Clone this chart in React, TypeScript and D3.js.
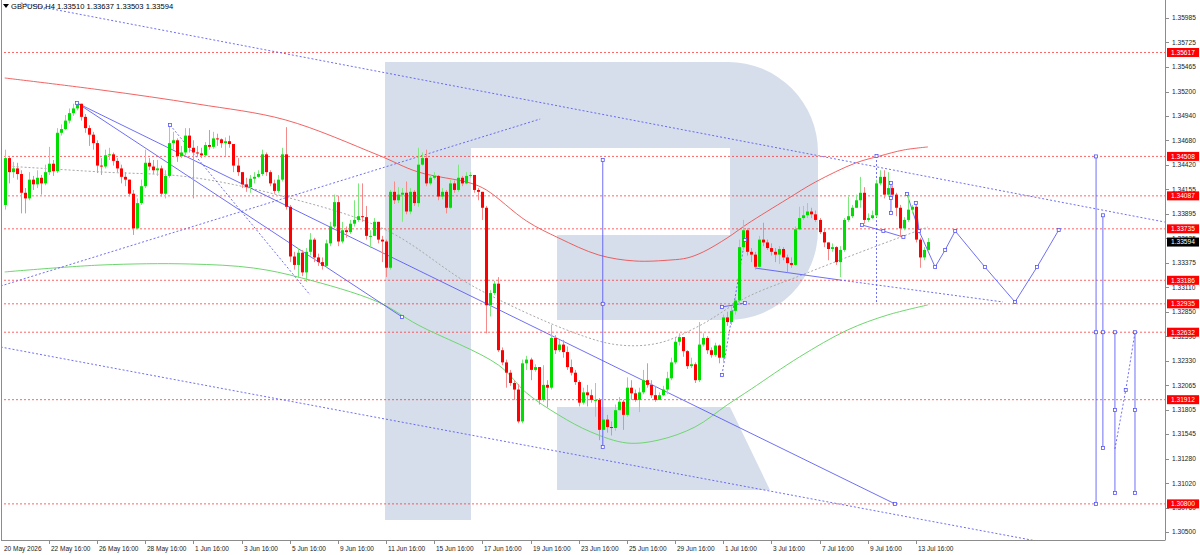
import React from 'react';
import * as d3 from 'd3';

// ---------- data ----------
const symbolTitle = 'GBPUSD,H4';
const lastQuote = [1.3351, 1.33637, 1.33503, 1.33594];

const firstOpen = 1.3399;
const closes = [
  1.3449, 1.3434, 1.3438, 1.3432, 1.3412, 1.3406, 1.3426, 1.3421, 1.3428, 1.3422,
  1.3434, 1.3443, 1.3435, 1.3476, 1.348, 1.3489, 1.3497, 1.3502, 1.3507, 1.3493,
  1.3481, 1.3474, 1.3465, 1.3441, 1.344, 1.3452, 1.3453, 1.3446, 1.3438, 1.3429,
  1.3426, 1.3411, 1.3374, 1.3401, 1.3419, 1.3444, 1.344, 1.3436, 1.3438, 1.3411,
  1.343, 1.3465, 1.3468, 1.3451, 1.3455, 1.3473, 1.346, 1.3455, 1.3454, 1.3452,
  1.3463, 1.3461, 1.347, 1.3469, 1.3465, 1.3467, 1.3464, 1.3441, 1.3434, 1.3421,
  1.3418, 1.3427, 1.3429, 1.3432, 1.3453, 1.3434, 1.3422, 1.3414, 1.3426, 1.3453,
  1.3397, 1.3344, 1.3335, 1.3348, 1.3327, 1.3349, 1.3362, 1.3343, 1.3338, 1.3334,
  1.3358, 1.3376, 1.3402, 1.336, 1.3372, 1.337, 1.3379, 1.3383, 1.3387, 1.3386,
  1.3366, 1.3366, 1.3381, 1.3362, 1.336, 1.3332, 1.3413, 1.3404, 1.341, 1.3412,
  1.3392, 1.3413, 1.3401, 1.3442, 1.3449, 1.3422, 1.3428, 1.343, 1.3408, 1.3413,
  1.3396, 1.3422, 1.3415, 1.3428, 1.3422, 1.343, 1.3431, 1.3415, 1.3413, 1.3396,
  1.3292, 1.3305, 1.3315, 1.3244, 1.3231, 1.322, 1.3209, 1.3202, 1.3168, 1.323,
  1.3234, 1.3223, 1.3226, 1.3191, 1.3207, 1.3204, 1.3257, 1.3244, 1.325, 1.3242,
  1.3226, 1.322, 1.321, 1.3188, 1.3199, 1.3196, 1.3191, 1.3191, 1.3159, 1.317,
  1.3162, 1.3161, 1.318, 1.3189, 1.3175, 1.3204, 1.3198, 1.3191, 1.3199, 1.3212,
  1.3207, 1.3196, 1.3191, 1.3196, 1.3202, 1.3214, 1.3231, 1.3253, 1.3258, 1.3243,
  1.3227, 1.3229, 1.3212, 1.325, 1.3257, 1.3244, 1.3239, 1.3249, 1.3236, 1.3279,
  1.3274, 1.3286, 1.3297, 1.3354, 1.3372, 1.3349, 1.3346, 1.3333, 1.3362, 1.3359,
  1.3353, 1.3349, 1.3346, 1.3352, 1.3343, 1.3337, 1.3335, 1.3373, 1.3385, 1.3388,
  1.3392, 1.3389, 1.3383, 1.337, 1.3359, 1.3352, 1.3354, 1.3338, 1.3351, 1.3383,
  1.3387, 1.3396, 1.3404, 1.3412, 1.3383, 1.3385, 1.3388, 1.3422, 1.3429, 1.341,
  1.3417, 1.341, 1.3396, 1.3374, 1.3383, 1.3394, 1.3397, 1.3362, 1.3343, 1.3351,
  1.33594,
];
const highs = [
  1.3458, 1.345, 1.3445, 1.3444, 1.3436, 1.3417, 1.3434, 1.343, 1.3436, 1.3431,
  1.3442, 1.3461, 1.3447, 1.3481, 1.3485, 1.3495, 1.3502, 1.3507, 1.3508, 1.3505,
  1.3496, 1.3484, 1.3477, 1.3468, 1.3449, 1.3458, 1.346, 1.3455, 1.3449, 1.3442,
  1.3434, 1.3426, 1.3415, 1.3406, 1.3426, 1.3458, 1.3449, 1.3447, 1.3447, 1.3441,
  1.3436, 1.3484, 1.3477, 1.347, 1.3462, 1.3481, 1.3481, 1.3468, 1.3462, 1.346,
  1.3466, 1.3479, 1.3477, 1.3475, 1.347, 1.3471, 1.3473, 1.3464, 1.3449, 1.3434,
  1.3428, 1.3431, 1.3434, 1.3436, 1.3458, 1.3455, 1.3436, 1.3426, 1.3431, 1.346,
  1.3482, 1.3399, 1.3349, 1.3353, 1.3351, 1.3353, 1.3369, 1.3364, 1.3347, 1.3343,
  1.3362, 1.3381, 1.341, 1.3409, 1.3381, 1.3376, 1.3383, 1.3404, 1.3422, 1.3422,
  1.3398, 1.3372, 1.3385, 1.3381, 1.3366, 1.3362, 1.3415, 1.3424, 1.3418, 1.3417,
  1.3424, 1.3417, 1.3415, 1.346, 1.3455, 1.3458, 1.3431, 1.3434, 1.3431, 1.3417,
  1.3415, 1.3426, 1.3425, 1.3442, 1.343, 1.3434, 1.3434, 1.3431, 1.3417, 1.3406,
  1.3398, 1.3308, 1.3318, 1.3322, 1.3247, 1.3234, 1.3223, 1.3212, 1.3208, 1.3234,
  1.3238, 1.3236, 1.3229, 1.3225, 1.3228, 1.3212, 1.3271, 1.326, 1.3255, 1.3255,
  1.3248, 1.3234, 1.3223, 1.3212, 1.3204, 1.3207, 1.3202, 1.3209, 1.3193, 1.3172,
  1.3175, 1.3168, 1.3186, 1.3194, 1.3191, 1.3215, 1.3212, 1.3202, 1.3204, 1.3223,
  1.323, 1.3212, 1.3206, 1.3199, 1.3206, 1.3221, 1.3236, 1.3257, 1.3262, 1.3252,
  1.3244, 1.3236, 1.3231, 1.3274, 1.3262, 1.3259, 1.3247, 1.3252, 1.325, 1.3282,
  1.3285, 1.3291, 1.3301, 1.3362, 1.3383, 1.3374, 1.3353, 1.3349, 1.3366, 1.338,
  1.3362, 1.3358, 1.3353, 1.3355, 1.3354, 1.3346, 1.3343, 1.3376, 1.3397, 1.3398,
  1.3401, 1.3396, 1.3393, 1.3385, 1.3374, 1.3359, 1.3358, 1.3355, 1.3355, 1.3385,
  1.3408, 1.3399, 1.341, 1.3429, 1.3418, 1.339, 1.3393, 1.3426, 1.3436, 1.3436,
  1.3434, 1.342, 1.3412, 1.3399, 1.3386, 1.3412, 1.3399, 1.3399, 1.3364, 1.3354,
  1.33637,
];
const lows = [
  1.3394, 1.3422, 1.3428, 1.3426, 1.339, 1.339, 1.3404, 1.3415, 1.3417, 1.341,
  1.342, 1.3431, 1.343, 1.3433, 1.3473, 1.3479, 1.3486, 1.3494, 1.35, 1.3489,
  1.3476, 1.3462, 1.3458, 1.3433, 1.3431, 1.3438, 1.3447, 1.3441, 1.3434, 1.3422,
  1.3419, 1.3408, 1.3367, 1.3374, 1.3399, 1.3417, 1.3436, 1.3432, 1.343, 1.3408,
  1.3406, 1.3428, 1.3458, 1.3445, 1.3449, 1.3452, 1.3455, 1.3406, 1.3451, 1.3449,
  1.345, 1.3458, 1.3459, 1.3462, 1.346, 1.3451, 1.346, 1.3434, 1.343, 1.3417,
  1.3413, 1.3412, 1.3422, 1.3428, 1.343, 1.343, 1.3419, 1.3411, 1.3412, 1.3424,
  1.3394, 1.3338, 1.333, 1.3321, 1.3323, 1.3317, 1.3345, 1.3338, 1.3334, 1.333,
  1.3332, 1.3355, 1.3374, 1.3355, 1.3358, 1.3364, 1.3368, 1.3376, 1.3381, 1.3381,
  1.3362, 1.3353, 1.3366, 1.3358, 1.3338, 1.3322, 1.333, 1.34, 1.3401, 1.3381,
  1.3389, 1.3389, 1.3398, 1.3397, 1.3441, 1.3419, 1.342, 1.3426, 1.3404, 1.3405,
  1.339, 1.3395, 1.3412, 1.3413, 1.3419, 1.3421, 1.3428, 1.3412, 1.3404, 1.3383,
  1.3262, 1.328, 1.3303, 1.3242, 1.3228, 1.3204, 1.3206, 1.3191, 1.3166, 1.3166,
  1.3223, 1.3212, 1.3221, 1.3186, 1.3189, 1.3183, 1.3202, 1.324, 1.3242, 1.3236,
  1.3223, 1.3217, 1.3207, 1.3184, 1.3186, 1.3184, 1.3188, 1.3173, 1.3148, 1.3141,
  1.3156, 1.3153, 1.3158, 1.318, 1.3159, 1.3173, 1.3191, 1.3189, 1.3178, 1.3197,
  1.3204, 1.3193, 1.3189, 1.3191, 1.3195, 1.3197, 1.3212, 1.3229, 1.3249, 1.3237,
  1.3224, 1.3225, 1.3209, 1.321, 1.3248, 1.324, 1.3236, 1.3237, 1.323, 1.3231,
  1.327, 1.3271, 1.3282, 1.3292, 1.3351, 1.3345, 1.3338, 1.333, 1.3332, 1.3355,
  1.3351, 1.3345, 1.3338, 1.3336, 1.334, 1.3327, 1.3332, 1.3334, 1.3372, 1.3383,
  1.3385, 1.3385, 1.3381, 1.3368, 1.3354, 1.334, 1.3349, 1.3335, 1.3322, 1.3349,
  1.3381, 1.3385, 1.3397, 1.3396, 1.3379, 1.3381, 1.3384, 1.3386, 1.342, 1.3406,
  1.3408, 1.3406, 1.3387, 1.3365, 1.3372, 1.3381, 1.339, 1.3359, 1.3332, 1.334,
  1.33503,
];

const timeLabels = [
  '20 May 2026', '22 May 16:00', '26 May 16:00', '28 May 16:00', '1 Jun 16:00',
  '3 Jun 16:00', '5 Jun 16:00', '9 Jun 16:00', '11 Jun 16:00', '15 Jun 16:00',
  '17 Jun 16:00', '19 Jun 16:00', '23 Jun 16:00', '25 Jun 16:00', '29 Jun 16:00',
  '1 Jul 16:00', '3 Jul 16:00', '7 Jul 16:00', '9 Jul 16:00', '13 Jul 16:00',
];
const timeLabelBars = [0, 11, 23, 35, 47, 59, 71, 83, 95, 107, 119, 131, 143, 155, 167, 179, 191, 203, 215, 227];

const priceTicks = [
  1.35985, 1.35725, 1.35465, 1.352, 1.3494, 1.3468, 1.3442, 1.34155, 1.33895, 1.33635, 1.33375,
  1.3311, 1.3285, 1.3259, 1.3233, 1.32065, 1.31805, 1.31545, 1.3128, 1.3102, 1.3076, 1.305,
];
const levels = [1.35617, 1.34508, 1.34087, 1.33735, 1.33186, 1.32935, 1.32632, 1.31912, 1.308];

// moving averages: [bar, price]
const maRed: [number, number][] = [
  [0, 1.35345], [24, 1.35217], [48, 1.35067], [70, 1.34897], [93, 1.34523], [103, 1.34342],
  [116, 1.34224], [120, 1.3415], [130, 1.33819], [138, 1.33638], [148, 1.33456], [157, 1.33392],
  [166, 1.33403], [170, 1.33424], [174, 1.33488], [180, 1.33638], [185, 1.33787], [195, 1.34054],
  [202, 1.34235], [212, 1.34438], [218, 1.34512], [224, 1.34577], [230, 1.34609],
];
const maGreen: [number, number][] = [
  [0, 1.33275], [24, 1.33349], [46, 1.3336], [62, 1.33317], [74, 1.33211], [93, 1.32955],
  [103, 1.32709], [123, 1.32282], [130, 1.31984], [138, 1.31749], [146, 1.31568], [155, 1.3145],
  [163, 1.31482], [172, 1.31621], [180, 1.31856], [186, 1.32026], [198, 1.32368], [210, 1.32656],
  [220, 1.32816], [230, 1.32923],
];
const maGray: [number, number][] = [
  [0, 1.34406], [24, 1.34342], [46, 1.34288], [70, 1.34075], [95, 1.33723], [117, 1.33115],
  [142, 1.32624], [153, 1.32496], [163, 1.32517], [173, 1.32699], [185, 1.33008], [198, 1.33232],
  [212, 1.33467], [230, 1.33755],
];

// analysis drawings: [bar, price]
type Pt = [number, number];
const dottedLines: Pt[][] = [
  [[4, 1.36145], [289, 1.33808]],
  [[-1, 1.32474], [289, 1.30148]],
  [[-1, 1.33125], [133.4, 1.34907]],
  [[41.2, 1.34843], [76.1, 1.33029]],
  [[178.7, 1.32176], [184.4, 1.33616]],
  [[208.1, 1.33189], [248.7, 1.32955]],
  [[217.2, 1.34512], [217.2, 1.32944]],
  [[276.6, 1.31386], [279.3, 1.32016], [281.6, 1.32632]],
];
const solidLines: Pt[][] = [
  [[18, 1.35078], [221.8, 1.308]],
  [[18, 1.35078], [99, 1.32795]],
  [[149, 1.3447], [149, 1.31408]],
  [[178.7, 1.32901], [184.4, 1.32944]],
  [[186.9, 1.33317], [208.1, 1.33189]],
  [[213.6, 1.33776], [218.9, 1.33712], [223.9, 1.33648]],
  [[220.8, 1.34224], [220.8, 1.33904]],
  [[227, 1.34011], [227.8, 1.33712]],
  [[271.9, 1.34508], [271.9, 1.308]],
  [[273.6, 1.3388], [273.6, 1.31397]],
  [[276.6, 1.32632], [276.6, 1.30917]],
  [[281.6, 1.32632], [281.6, 1.30917]],
];
const forecastPath: Pt[] = [
  [224.8, 1.34107], [227.8, 1.33712], [231.8, 1.33328], [234.3, 1.3351], [236.8, 1.33712],
  [244.2, 1.33328], [251.7, 1.32955], [257.2, 1.33328], [262.6, 1.33723],
];
const markers: Pt[] = [
  [18, 1.35078], [221.8, 1.308], [99, 1.32795], [41.2, 1.34843],
  [149, 1.3447], [149, 1.32935], [149, 1.31408],
  [178.7, 1.32901], [184.4, 1.32944], [178.7, 1.32176], [184.4, 1.33616],
  [213.6, 1.33776], [218.9, 1.33712], [223.9, 1.33648], [217.2, 1.34512],
  [220.8, 1.34224], [220.8, 1.34064], [220.8, 1.33904], [227, 1.34011],
  [271.9, 1.34508], [271.9, 1.32632], [271.9, 1.308],
  [273.6, 1.3388], [273.6, 1.32632], [273.6, 1.31397],
  [276.6, 1.32632], [276.6, 1.31802], [276.6, 1.30917],
  [281.6, 1.32632], [281.6, 1.31802], [281.6, 1.30917],
  [279.3, 1.32016],
];

// ---------- chart ----------
const W = 1200;
const H = 555;
const plotR = 1165;
const plotB = 540;

const x = d3.scaleLinear().domain([0, 289]).range([4.7, 1164.7]);
const y = d3.scaleLinear().domain([1.305, 1.35985]).range([532, 18]);

const font = '"Liberation Sans", Arial, sans-serif';
const blue = '#5656f5';

const line = d3.line<Pt>().x(d => x(d[0])).y(d => y(d[1]));
const smooth = d3.line<Pt>().x(d => x(d[0])).y(d => y(d[1])).curve(d3.curveCatmullRom.alpha(0.5));

const App: React.FC = () => {
  const bars = closes.map((c, i) => {
    const o = i === 0 ? firstOpen : closes[i - 1];
    return { i, o, c, h: Math.max(highs[i], o, c), l: Math.min(lows[i], o, c) };
  });

  return (
    <svg width={W} height={H} style={{ position: 'absolute', left: 0, top: 0, background: '#fff' }}>
      <defs>
        <clipPath id="plot">
          <rect x={1} y={0} width={plotR - 1} height={plotB} />
        </clipPath>
      </defs>

      {/* broker watermark */}
      <g fill="#d5deea">
        <path d="M385,62 H728 A90,90 0 0 1 818,152 V230 A90,90 0 0 1 728,320 H557 V235 H730 V148 H471 V520 H385 Z" />
        <path d="M557,407 H730 L770,490 H557 Z" />
      </g>

      <g clipPath="url(#plot)">
        {/* horizontal levels */}
        {levels.map(lv => (
          <line key={lv} x1={0} x2={plotR} y1={y(lv)} y2={y(lv)}
            stroke="#ff3030" strokeOpacity={0.75} strokeDasharray="2,2" strokeWidth={1} />
        ))}

        {/* moving averages */}
        <path d={smooth(maRed) ?? ''} fill="none" stroke="#f04848" strokeWidth={1} strokeOpacity={0.85} />
        <path d={smooth(maGreen) ?? ''} fill="none" stroke="#6fd66f" strokeWidth={1} />
        <path d={smooth(maGray) ?? ''} fill="none" stroke="#a8a8a8" strokeWidth={1} strokeDasharray="2,2" />

        {/* trend drawings */}
        {dottedLines.map((pts, k) => (
          <path key={'d' + k} d={line(pts) ?? ''} fill="none" stroke={blue} strokeOpacity={0.85}
            strokeWidth={1} strokeDasharray="2,2" />
        ))}
        {solidLines.map((pts, k) => (
          <path key={'s' + k} d={line(pts) ?? ''} fill="none" stroke={blue} strokeOpacity={0.85} strokeWidth={1} />
        ))}
        <path d={line(forecastPath) ?? ''} fill="none" stroke={blue} strokeOpacity={0.85} strokeWidth={1} />

        {/* candles */}
        {bars.map(b => {
          const up = b.c >= b.o;
          const cx = Math.round(x(b.i));
          const top = y(Math.max(b.o, b.c));
          const bot = y(Math.min(b.o, b.c));
          return (
            <g key={b.i}>
              <line x1={cx + 0.5} x2={cx + 0.5} y1={y(b.h)} y2={y(b.l)}
                stroke={up ? '#7de87d' : '#f58a8a'} strokeWidth={1} />
              <rect x={cx - 1} y={top} width={3} height={Math.max(1, bot - top)}
                fill={up ? '#00dd00' : '#ff0000'} />
            </g>
          );
        })}

        {[...markers, ...forecastPath].map((p, k) => (
          <rect key={'m' + k} x={x(p[0]) - 1.5} y={y(p[1]) - 1.5} width={3} height={3}
            fill="#fff" stroke={blue} strokeWidth={0.8} />
        ))}
      </g>

      {/* frame */}
      <line x1={1.5} x2={1.5} y1={0} y2={plotB} stroke="#8c8c8c" />
      <line x1={plotR + 0.5} x2={plotR + 0.5} y1={0} y2={plotB + 0.5} stroke="#8c8c8c" />
      <line x1={1} x2={plotR} y1={plotB + 0.5} y2={plotB + 0.5} stroke="#8c8c8c" />

      {/* header */}
      <path d="M3,4 L9,4 L6,8 Z" fill="#000" />
      <text x={11} y={9} fontFamily={font} fontSize={7.6} fill="#000">
        {symbolTitle + '  ' + lastQuote.map(v => v.toFixed(5)).join(' ')}
      </text>

      {/* price axis */}
      {priceTicks.map(t => (
        <g key={t}>
          <line x1={plotR} x2={plotR + 4} y1={Math.round(y(t)) + 0.5} y2={Math.round(y(t)) + 0.5} stroke="#8c8c8c" />
          <text x={1172} y={y(t) + 2.4} fontFamily={font} fontSize={6.6} fill="#222">{t.toFixed(5)}</text>
        </g>
      ))}
      {levels.map(lv => (
        <g key={'l' + lv}>
          <rect x={plotR + 2} y={y(lv) - 4.5} width={32} height={9} fill="#ff0000" />
          <text x={1171} y={y(lv) + 2.4} fontFamily={font} fontSize={6.6} fill="#fff">{lv.toFixed(5)}</text>
        </g>
      ))}
      <rect x={plotR + 2} y={y(lastQuote[3]) - 4.5} width={32} height={9} fill="#000" />
      <text x={1171} y={y(lastQuote[3]) + 2.4} fontFamily={font} fontSize={6.6} fill="#fff">
        {lastQuote[3].toFixed(5)}
      </text>

      {/* time axis */}
      {timeLabels.map((lab, k) => {
        const tx = k === 0 ? 2 : Math.round(x(timeLabelBars[k]));
        return (
          <g key={lab}>
            {k > 0 && <line x1={tx + 0.5} x2={tx + 0.5} y1={plotB} y2={plotB + 4} stroke="#8c8c8c" />}
            <text x={tx + 2} y={551} fontFamily={font} fontSize={6.5} fill="#222">{lab}</text>
          </g>
        );
      })}
    </svg>
  );
};

export default App;
